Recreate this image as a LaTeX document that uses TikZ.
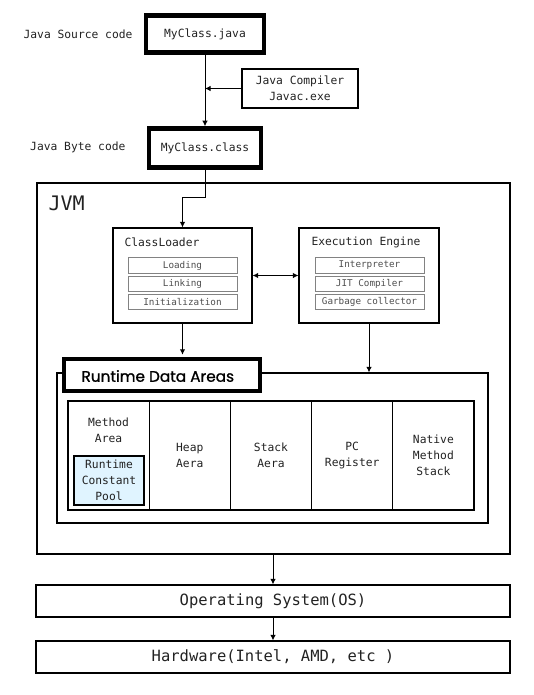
\documentclass[tikz,border=0pt]{standalone}
\usepackage{fontspec}
\setmonofont{DejaVu Sans Mono}
\newfontfamily\rdafont{Poppins}[FakeBold=1]
\usepackage{tikz}
\usetikzlibrary{calc}
\usetikzlibrary{arrows.meta}

\definecolor{poolblue}{RGB}{224,244,255}
\definecolor{rowgray}{RGB}{130,130,130}
\definecolor{textgray}{RGB}{34,34,34}

\tikzset{
	box/.style={draw, line width=1.2pt, inner sep=0pt, align=center, text=textgray},
	thickbox/.style={box, line width=4.5pt},
	rowbox/.style={draw=rowgray, line width=1pt, minimum width=109, minimum height=15.5,
		inner sep=0pt, font=\ttfamily\fontsize{9.3}{10}\selectfont, text=textgray!80},
	cell/.style={box, minimum width=81.2, minimum height=109, font=\ttfamily\fontsize{11.3}{16}\selectfont}
}

\begin{document}
\begin{tikzpicture}[x=1pt, y=-1pt, >={Latex[length=5.5pt,width=5.5pt]},
	font=\ttfamily\fontsize{11.3}{16}\selectfont]

	\useasboundingbox (0,0) rectangle (533,695);

	% source and byte code
	\node[thickbox, minimum width=118, minimum height=37] (java) at (205,34) {MyClass.java};
	\node[anchor=east, text=textgray] (srclabel) at (136,34) {Java Source code};

	\node[box, minimum width=116, minimum height=39] (javac) at (300,88.5) {Java Compiler\\Javac.exe};

	\node[thickbox, minimum width=112, minimum height=39] (class) at (205,148) {MyClass.class};
	\node[anchor=east, text=textgray] (bytelabel) at (129,147) {Java Byte code};

	\draw[->, line width=1pt] (java.south) -- (class.north);
	\draw[->, line width=1pt] (javac.west) -- (javac.west -| java.south);

	% JVM
	\node[box, minimum width=473, minimum height=371] (jvm) at (273.5,368.5) {};
	\node[anchor=west, text=textgray, font=\ttfamily\fontsize{20}{22}\selectfont] (jvmlabel) at (45,203) {JVM};

	% class loader
	\node[box, minimum width=139, minimum height=95] (loader) at (182.5,275.5) {};
	\node[anchor=west, text=textgray] (loadertitle) at (121,242) {ClassLoader};
	\node[rowbox] (loading) at (182.5,265.5) {Loading};
	\node[rowbox] (linking) at (182.5,284) {Linking};
	\node[rowbox] (init) at (182.5,302) {Initialization};

	% execution engine
	\node[box, minimum width=140, minimum height=95] (exec) at (369,275.5) {};
	\node[anchor=west, text=textgray] (exectitle) at (308,242) {Execution Engine};
	\node[rowbox] (interp) at (369.5,265.5) {Interpreter};
	\node[rowbox] (jit) at (369.5,284) {JIT Compiler};
	\node[rowbox] (gc) at (369.5,302) {Garbage collector};

	\draw[->, line width=1pt] (class.south) -- ++(0,28) -| (loader.north);
	\draw[<->, line width=1pt] (loader.east) -- (exec.west);

	% runtime data areas
	\node[box, minimum width=431, minimum height=150] (rda) at (272.5,448) {};
	\node[thickbox, fill=white, minimum width=196, minimum height=32] (rdalabel) at (162,375) {};
	\node[anchor=west, font=\rdafont\fontsize{15.3}{17}\selectfont] (rdatitle) at (78,376) {Runtime Data Areas};

	\draw[->, line width=1pt] (loader.south) -- ($(loader.south |- rdalabel.north)+(0,-2)$);
	\draw[->, line width=1pt] (exec.south) -- (exec.south |- rda.north);

	\foreach \name/\txt [count=\i from 0] in
		{method/{},
		 heap/{Heap\\Aera},
		 stack/{Stack\\Aera},
		 pc/{PC\\Register},
		 native/{Native\\Method\\Stack}}
		\node[cell] (\name) at ({108.6+81.2*\i},455.5) {\txt};

	\node[text=textgray, align=center] (methodtitle) at (108.6,430) {Method\\Area};
	\node[box, fill=poolblue, minimum width=70, minimum height=49] (pool) at (109,480.5) {Runtime\\Constant\\Pool};

	% OS and hardware
	\node[box, minimum width=474, minimum height=32, font=\ttfamily\fontsize{15.5}{18}\selectfont] (os) at (273,601) {Operating System(OS)};
	\node[box, minimum width=474, minimum height=32, font=\ttfamily\fontsize{15.5}{18}\selectfont] (hw) at (273,657) {Hardware(Intel, AMD, etc )};

	\draw[->, line width=1pt] (jvm.south -| os.north) -- (os.north);
	\draw[->, line width=1pt] (os.south) -- (hw.north);

\end{tikzpicture}
\end{document}
